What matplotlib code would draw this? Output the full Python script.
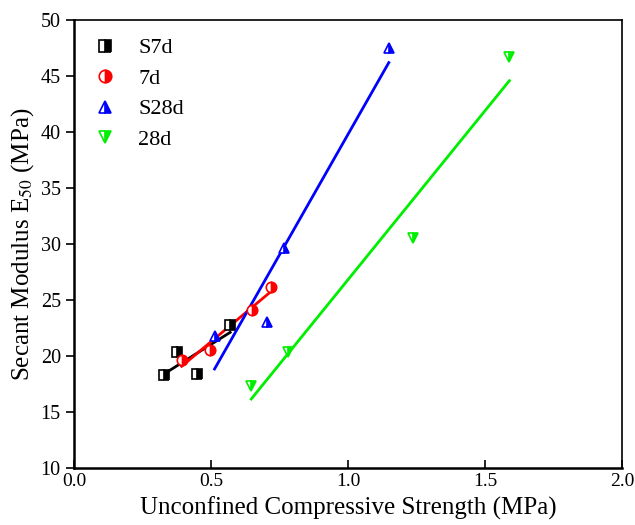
import numpy as np
import matplotlib
matplotlib.use("Agg")
import matplotlib.pyplot as plt

plt.rcParams['font.family'] = ['Liberation Serif', 'DejaVu Serif']
plt.rcParams['mathtext.fontset'] = 'stix'

# data
s7d_x = [0.33, 0.375, 0.45, 0.57]
s7d_y = [18.3, 20.4, 18.4, 22.8]
d7_x = [0.393, 0.495, 0.651, 0.72]
d7_y = [19.6, 20.5, 24.1, 26.2]
s28d_x = [0.513, 0.705, 0.767, 1.149]
s28d_y = [21.8, 23.0, 29.6, 47.5]
d28_x = [0.647, 0.782, 1.236, 1.589]
d28_y = [17.3, 20.4, 30.5, 46.7]

labels = ['S7d', '7d', 'S28d', '28d']
colors = ['black', 'red', 'blue', '#00ee00']
markers = ['s', 'o', '^', 'v']

fig = plt.figure(figsize=(6.35, 5.25), dpi=100)
ax = fig.add_axes([0.1165, 0.1086, 0.8630, 0.8533])

series = [(s7d_x, s7d_y), (d7_x, d7_y), (s28d_x, s28d_y), (d28_x, d28_y)]
for (xs, ys), lab, c, m in zip(series, labels, colors, markers):
    xs = np.array(xs)
    ys = np.array(ys)
    k, b = np.polyfit(xs, ys, 1)
    xl = np.array([xs.min(), xs.max()])
    ax.plot(xl, k * xl + b, color=c, lw=2, zorder=2)
    ax.plot(xs, ys, ls='none', marker=m, ms=7.5, color=c, mec=c, mew=1.2,
            fillstyle='right', markerfacecoloralt='white', label=lab, zorder=3)

ax.set_xlim(0, 2.0)
ax.set_ylim(10, 50)
ax.set_xticks([0.0, 0.5, 1.0, 1.5, 2.0])
ax.set_yticks(range(10, 51, 5))
ax.tick_params(axis='x', direction='in', length=6, width=1.2, labelsize=14)
ax.tick_params(axis='y', direction='out', length=6, width=1.2, labelsize=14.5)
for s in ['left', 'bottom']:
    ax.spines[s].set_linewidth(1.8)
for s in ['right', 'top']:
    ax.spines[s].set_linewidth(1.2)

ax.set_xlabel('Unconfined Compressive Strength (MPa)', fontsize=18, labelpad=5)
ax.set_ylabel('Secant Modulus E$_{50}$ (MPa)', fontsize=18, labelpad=3)

ax.legend(loc='upper left', frameon=False, fontsize=16, handletextpad=0.9,
          labelspacing=0.45, borderaxespad=0.4, handlelength=1.2,
          markerscale=1.2, bbox_to_anchor=(0.0, 1.0))

fig.savefig('out.png', dpi=100)
